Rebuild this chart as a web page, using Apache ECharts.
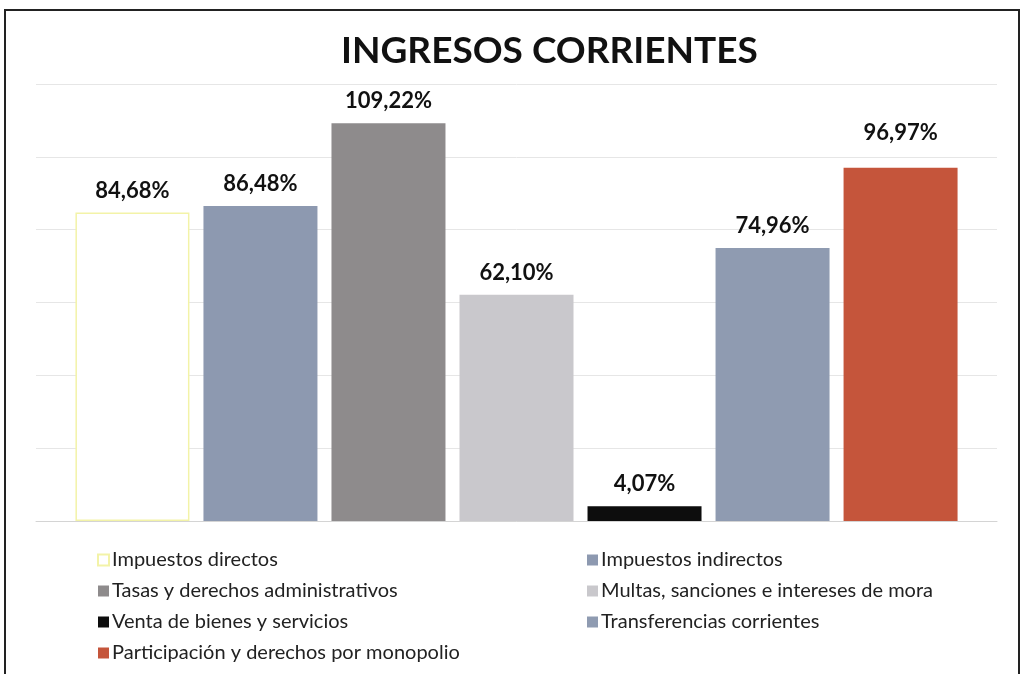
<!DOCTYPE html>
<html>
<head>
<meta charset="utf-8">
<title>Ingresos corrientes</title>
<script src="https://cdn.jsdelivr.net/npm/echarts@6/dist/echarts.min.js"></script>
<style>
  html, body { margin: 0; padding: 0; background: #fff; }
  #chart { width: 1023px; height: 674px; }
</style>
</head>
<body>
<div id="chart"></div>
<script>
// datos
const categories = ['Ingresos corrientes'];
const seriesNames = [
  'Impuestos directos',
  'Impuestos indirectos',
  'Tasas y derechos administrativos',
  'Multas, sanciones e intereses de mora',
  'Venta de bienes y servicios',
  'Transferencias corrientes',
  'Participación y derechos por monopolio'
];
const seriesValues = [84.68, 86.48, 109.22, 62.10, 4.07, 74.96, 96.97];
const yTicks = [0, 20, 40, 60, 80, 100, 120];

const barColors = ['#ffffff', '#8d99b0', '#8e8b8c', '#c9c8cc', '#0d0d0d', '#8f9bb1', '#c5553b'];
const FONT = 'Lato';

const chart = echarts.init(document.getElementById('chart'));

const series = seriesNames.map(function (name, i) {
  return {
    name: name,
    type: 'bar',
    barWidth: 114,
    barGap: '12.3%',
    data: [seriesValues[i]],
    itemStyle: {
      color: barColors[i],
      // la primera barra es blanca con borde amarillo
      borderColor: i === 0 ? '#f3f3a8' : barColors[i],
      borderWidth: i === 0 ? 1.5 : 0
    },
    label: {
      show: true,
      position: 'top',
      distance: 11,
      offset: i === 6 ? [0, -13] : [0, 0],
      fontFamily: FONT,
      fontWeight: 'bold',
      fontSize: 22,
      color: '#111',
      formatter: function (p) {
        return p.value.toFixed(2).replace('.', ',') + '%';
      }
    }
  };
});

const legendBase = {
  orient: 'vertical',
  itemWidth: 11,
  itemHeight: 11,
  itemGap: 11,
  icon: 'rect',
  textStyle: { fontFamily: FONT, fontSize: 20, color: '#222', padding: [0, 0, 0, -2] }
};

const options = {
  backgroundColor: '#fff',
  animation: false,
  title: {
    text: 'INGRESOS CORRIENTES',
    left: 336,
    top: 28,
    textStyle: { fontFamily: FONT, fontWeight: 'bold', fontSize: 37, color: '#111' }
  },
  graphic: [{
    type: 'rect',
    shape: { x: 5, y: 10, width: 1014, height: 700 },
    style: { fill: 'none', stroke: '#222', lineWidth: 2 }
  }],
  legend: [
    Object.assign({}, legendBase, {
      left: 92,
      top: 545,
      data: [seriesNames[0], seriesNames[2], seriesNames[4], seriesNames[6]]
    }),
    Object.assign({}, legendBase, {
      left: 582,
      top: 545,
      data: [seriesNames[1], seriesNames[3], seriesNames[5]]
    })
  ],
  grid: {
    left: 36,
    right: 26,
    top: 84,
    bottom: 153
  },
  xAxis: {
    type: 'category',
    data: categories,
    axisTick: { show: false },
    axisLabel: { show: false },
    axisLine: { lineStyle: { color: '#d4d4d4', width: 1 } }
  },
  yAxis: {
    type: 'value',
    min: yTicks[0],
    max: yTicks[yTicks.length - 1],
    interval: yTicks[1] - yTicks[0],
    axisLabel: { show: false },
    axisLine: { show: false },
    axisTick: { show: false },
    splitLine: { lineStyle: { color: '#e6e6e6', width: 1 } }
  },
  series: series
};

chart.setOption(options);
</script>
</body>
</html>
